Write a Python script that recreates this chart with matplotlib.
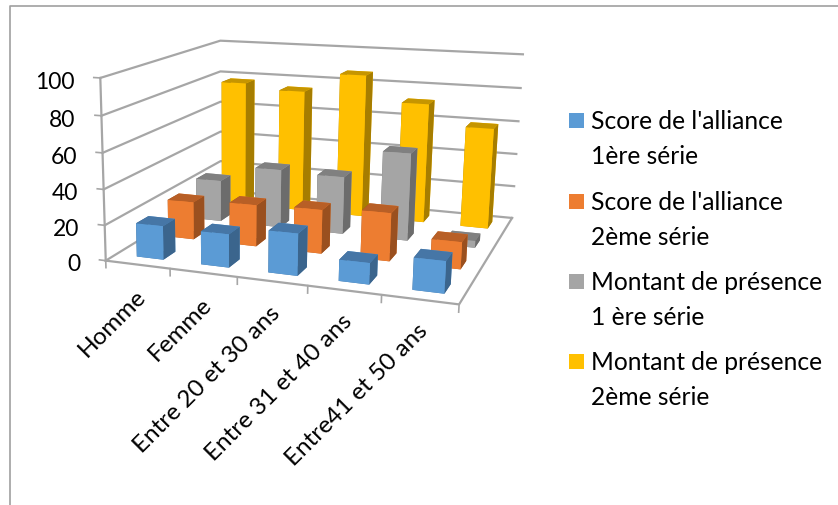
import numpy as np
import matplotlib
matplotlib.use("Agg")
import matplotlib.pyplot as plt
from matplotlib.patches import Rectangle
from matplotlib.lines import Line2D
from mpl_toolkits.mplot3d import proj3d

categories = ["Homme", "Femme", "Entre 20 et 30 ans", "Entre 31 et 40 ans", "Entre41 et 50 ans"]
score_1 = [19, 18.5, 23, 11.5, 17]
score_2 = [22, 24, 25, 27, 15]
presence_1 = [25, 35, 34, 51, 4]
presence_2 = [78, 75, 87, 72, 60]
z_ticks = [0, 20, 40, 60, 80, 100]
legend_labels = ["Score de l'alliance\n1ère série", "Score de l'alliance\n2ème série",
                 "Montant de présence\n1 ère série", "Montant de présence\n2ème série"]
series_values = [score_1, score_2, presence_1, presence_2]
front_colors = ["#5b9bd5", "#ed7d31", "#a5a5a5", "#ffc000"]
top_colors = ["#4676a6", "#b85f26", "#808080", "#c69500"]
side_colors = ["#3b658d", "#9a501f", "#6c6c6c", "#a67d00"]

W, H = 838, 506
plt.rcParams["font.family"] = ["Lato", "DejaVu Sans"]
fig = plt.figure(figsize=(W / 100, H / 100), dpi=100, facecolor="white")
ax = fig.add_axes([0, 0, 1, 1], projection="3d", computed_zorder=False)

# camera calibration: where the corners of the plot box fall on the canvas
world = np.array([[0, 0, 0], [0, 0, 100], [0, 4, 100], [0, 4, 0], [5, 4, 100], [5, 4, 0], [5, 0, 0]], float)
pixel = np.array([[108, 260], [98, 79], [223, 41], [218, 193], [522, 56], [513, 217], [459, 307]], float)
rows = []
for (X, Y, Z), (u, v) in zip(world, pixel):
    rows.append([X, Y, Z, 1, 0, 0, 0, 0, -u * X, -u * Y, -u * Z, -u])
    rows.append([0, 0, 0, 0, X, Y, Z, 1, -v * X, -v * Y, -v * Z, -v])
P = np.linalg.svd(np.array(rows))[2][-1].reshape(3, 4)
P = P / (P[2] @ np.array([2.5, 2, 50, 1]))
M = np.vstack([P[0], P[1], P[2] - np.array([0, 0, 0, 0.5]), P[2]])
ax.get_proj = lambda: M
ax.apply_aspect = lambda position=None: None
ax.viewLim.intervalx = (0, W)
ax.viewLim.intervaly = (H, 0)
ax.set_axis_off()


def canvas(x, y, z):
    u, v, _ = proj3d.proj_transform(x, y, z, M)
    return float(u), float(v)


def stroke(xs, ys, zs, lw=1.6):
    pts = [canvas(a, b, c) for a, b, c in zip(xs, ys, zs)]
    ax.add_line(Line2D([p[0] for p in pts], [p[1] for p in pts], color="#a6a6a6", lw=lw, zorder=2,
                       transform=ax.transData, clip_on=False))


nx, ny = len(categories), len(series_values)
for z in z_ticks:
    stroke([0, 0, nx], [0, ny, ny], [z, z, z])
    stroke([-0.1, 0], [0, 0], [z, z], lw=1.2)
    u, v = canvas(-0.4, 0, z)
    fig.text(u / W, 1 - (v + 5.5) / H, str(z), ha="right", va="center", fontsize=16.5, color="black")
stroke([0, 0], [0, 0], [0, 100])
stroke([0, nx, nx], [0, 0, ny], [0, 0, 0])
for i in range(nx + 1):
    stroke([i, i], [0, 0], [-4, 0], lw=1.2)

bw, bd = 0.42, 0.38
order = 10
for j in reversed(range(ny)):
    for i in range(nx):
        ax.bar3d(i + 0.535 - bw / 2, j + 0.5 - bd / 2, 0, bw, bd, series_values[j][i], shade=False,
                 color=[top_colors[j], top_colors[j], front_colors[j], front_colors[j], side_colors[j], side_colors[j]],
                 edgecolor="none", linewidth=0, zorder=order)
        order += 1

for i, label in enumerate(categories):
    u, v = canvas(i + 0.5, 0, 0)
    fig.text((u - 3) / W, 1 - (v + 20) / H, label, rotation=45, rotation_mode="anchor", ha="right", va="top",
             fontsize=17.5, color="black")

# chart frame
fig.add_artist(Line2D([9.5 / W, 9.5 / W, 1], [0, 1 - 6.5 / H, 1 - 6.5 / H], color="#a0a0a0", lw=1.2,
                      transform=fig.transFigure))

# legend
legend_y = [121.5, 202.5, 282.5, 362.5]
for y, label, c in zip(legend_y, legend_labels, front_colors):
    fig.add_artist(Rectangle((569 / W, 1 - (y + 7.5) / H), 15 / W, 15 / H, color=c, lw=0, transform=fig.transFigure))
    fig.text(591 / W, 1 - (y + 17.5) / H, label, ha="left", va="center", fontsize=17.75, color="black", linespacing=1.6)

fig.savefig("out.png", dpi=100, facecolor="white")
